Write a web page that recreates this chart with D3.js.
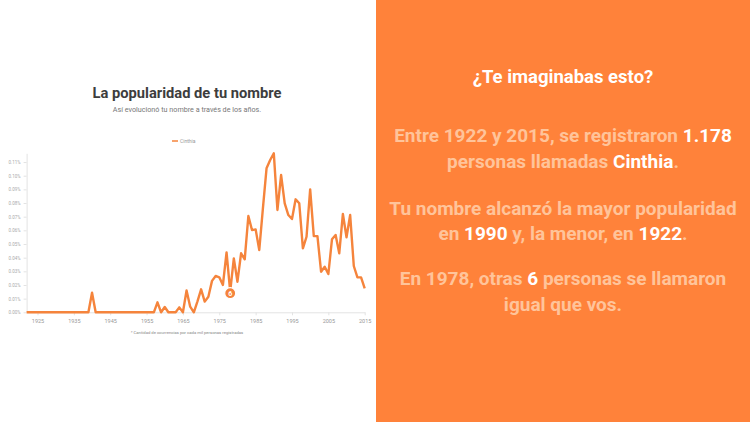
<!DOCTYPE html>
<html>
<head>
<meta charset="utf-8">
<script src="https://cdn.jsdelivr.net/npm/d3@7"></script>
<style>
  html, body { margin: 0; padding: 0; background: #fff; }
  svg { display: block; font-family: Roboto, "Open Sans", sans-serif; }
</style>
</head>
<body>
<svg id="chart" width="750" height="422"></svg>
<script>
// Popularity of the name over the years (share of registrations, in %).
const years = d3.range(1922, 2016);
const cinthia = [
  0, 0, 0, 0, 0, 0, 0, 0, 0, 0, 0, 0, 0, 0, 0, 0, 0, 0,       // 1922-1939
  0.0143,                                                      // 1940
  0, 0, 0, 0, 0, 0, 0, 0, 0, 0, 0, 0, 0, 0, 0, 0, 0,          // 1941-1957
  0.0073, 0, 0.0039, 0, 0, 0, 0.0036, 0, 0.0160, 0.0041,       // 1958-1967
  0, 0.0080, 0.0168, 0.0078, 0.0114, 0.0230, 0.0266, 0.0256, 0.0200, 0.0439, // 1968-1977
  0.0151, 0.0395, 0.0224, 0.0432, 0.0388, 0.0705, 0.0602, 0.0607, 0.0456, 0.0761, // 1978-1987
  0.1054, 0.1115, 0.1164, 0.0749, 0.1005, 0.0798, 0.0712, 0.0683, 0.0827, 0.0798, // 1988-1997
  0.0468, 0.0553, 0.0900, 0.0558, 0.0558, 0.0297, 0.0334, 0.0280, 0.0534, 0.0566, // 1998-2007
  0.0432, 0.0720, 0.0549, 0.0712, 0.0339, 0.0256, 0.0256, 0.0176                  // 2008-2015
];
const yTicks = [0, 0.01, 0.02, 0.03, 0.04, 0.05, 0.06, 0.07, 0.08, 0.09, 0.10, 0.11];
const xTicks = [1925, 1935, 1945, 1955, 1965, 1975, 1985, 1995, 2005, 2015];
const highlightYear = 1978;
const highlightLabel = "6";

const ORANGE = "#f5843c";
const svg = d3.select("#chart");

// right-hand story panel
svg.append("rect").attr("x", 376).attr("y", 0).attr("width", 374).attr("height", 422)
  .attr("fill", "#ff823a");

// chart title block
svg.append("text").attr("x", 187).attr("y", 98).attr("text-anchor", "middle")
  .attr("font-size", 14.7).attr("font-weight", 700).attr("fill", "#3d3d3d")
  .text("La popularidad de tu nombre");
svg.append("text").attr("x", 187).attr("y", 112).attr("text-anchor", "middle")
  .attr("font-size", 7.2).attr("fill", "#777")
  .text("Así evolucionó tu nombre a través de los años.");

// legend
const leg = svg.append("g").attr("transform", "translate(172,141)");
leg.append("line").attr("x1", 0).attr("x2", 6).attr("stroke", ORANGE).attr("stroke-width", 1.5);
leg.append("text").attr("x", 8).attr("y", 1.8).attr("font-size", 5).attr("fill", "#999").text("Cinthia");

const x = d3.scaleLinear().domain([1922, 2015]).range([26.6, 364.7]);
const y = d3.scaleLinear().domain([0, d3.max(cinthia)]).range([312.3, 153.3]);

const gx = svg.append("g").attr("transform", `translate(0,${y(0)})`)
  .call(d3.axisBottom(x).tickValues(xTicks).tickFormat(d3.format("d")).tickSize(3).tickSizeOuter(0));
gx.select(".domain").attr("stroke", "#e3e3e3");
gx.selectAll(".tick line").attr("stroke", "#e3e3e3");
gx.selectAll("text").attr("font-size", 5.5).attr("fill", "#999").attr("dy", "0.9em").attr("font-family", "Roboto, sans-serif");

const gy = svg.append("g").attr("transform", `translate(${x(1922)},0)`)
  .call(d3.axisLeft(y).tickValues(yTicks).tickFormat(d => d3.format(".2f")(d) + "%").tickSize(3).tickSizeOuter(0));
gy.select(".domain").attr("stroke", "#e3e3e3");
gy.selectAll(".tick line").attr("stroke", "#e3e3e3");
gy.selectAll("text").attr("font-size", 4.5).attr("fill", "#aaa").attr("font-family", "Roboto, sans-serif");

const line = d3.line().x((d, i) => x(years[i])).y(d => y(d));
svg.append("path").datum(cinthia).attr("d", line)
  .attr("fill", "none").attr("stroke", ORANGE).attr("stroke-width", 2.4)
  .attr("stroke-linejoin", "round");

// highlighted year marker
const hi = years.indexOf(highlightYear);
const mk = svg.append("g").attr("transform", `translate(${x(highlightYear)},${y(cinthia[hi]) + 1.5})`);
mk.append("circle").attr("r", 5.5).attr("fill", ORANGE).attr("stroke", "#fff").attr("stroke-width", 1.2);
mk.append("text").attr("text-anchor", "middle").attr("y", 2.4).attr("font-size", 7)
  .attr("font-weight", 700).attr("fill", "#fff").text(highlightLabel);

svg.append("text").attr("x", 187).attr("y", 334).attr("text-anchor", "middle")
  .attr("font-size", 4.2).attr("fill", "#888")
  .text("* Cantidad de ocurrencias por cada mil personas registradas");

// story text
const PEACH = "#ffc49a";
const story = [
  { y: 83, size: 18.5, parts: [["¿Te imaginabas esto?", true]] },
  { y: 142, size: 19, parts: [["Entre 1922 y 2015, se registraron ", false], ["1.178", true]] },
  { y: 168, size: 19, parts: [["personas llamadas ", false], ["Cinthia", true], [".", false]] },
  { y: 215, size: 19, parts: [["Tu nombre alcanzó la mayor popularidad", false]] },
  { y: 240, size: 19, parts: [["en ", false], ["1990", true], [" y, la menor, en ", false], ["1922", true], [".", false]] },
  { y: 285, size: 19, parts: [["En 1978, otras ", false], ["6", true], [" personas se llamaron", false]] },
  { y: 311, size: 19, parts: [["igual que vos.", false]] }
];
story.forEach(s => {
  const t = svg.append("text").attr("x", 563).attr("y", s.y).attr("text-anchor", "middle")
    .attr("font-size", s.size).attr("font-weight", 700);
  s.parts.forEach(([txt, strong]) => {
    t.append("tspan").attr("fill", strong ? "#fff" : PEACH).text(txt);
  });
});
</script>
</body>
</html>
